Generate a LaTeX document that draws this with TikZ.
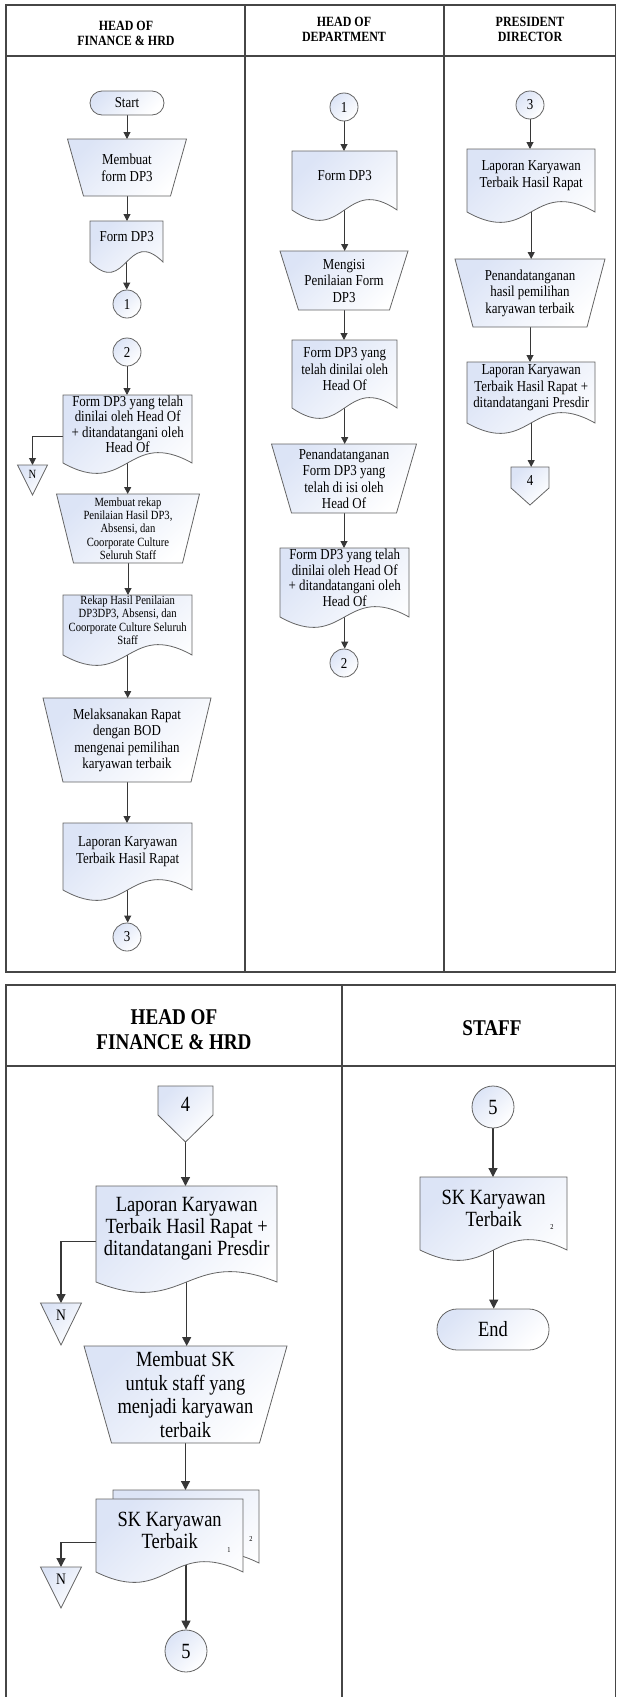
\documentclass[tikz,border=0pt]{standalone}
\usepackage{fontspec}
\setmainfont{Liberation Serif}[FakeStretch=0.85]
\usetikzlibrary{arrows.meta}
\pgfdeclarelayer{bg}
\pgfsetlayers{bg,main}

\definecolor{shd}{RGB}{220,228,246}
\definecolor{edge}{RGB}{100,100,100}
\definecolor{wire}{RGB}{55,55,55}
\definecolor{rulecol}{RGB}{70,70,70}

% type sizes
\newcommand\FsBody{\fontsize{15.2}{16.5}\selectfont}
\newcommand\FsTight{\fontsize{15.2}{15.5}\selectfont}
\newcommand\FsSmall{\fontsize{12.5}{13.3}\selectfont}
\newcommand\FsHead{\fontsize{14.1}{15}\selectfont\bfseries}
\newcommand\FsBig{\fontsize{21.7}{22}\selectfont}
\newcommand\FsBigT{\fontsize{21.7}{23.5}\selectfont}
\newcommand\FsBigHead{\fontsize{22.5}{25}\selectfont\bfseries}
\newcommand\FsN{\fontsize{12.5}{12.5}\selectfont}
\newcommand\FsNB{\fontsize{16}{16}\selectfont}
\newcommand\FsTiny{\fontsize{7.5}{8}\selectfont}

\tikzset{
  shp/.style={draw=edge, line width=0.8pt, top color=shd, bottom color=white, shading angle=45},
  txt/.style={inner sep=0pt, align=center},
  arr/.style={draw=wire, line width=1pt, -{Triangle[length=7pt,width=7pt]}},
  arrB/.style={draw=wire, line width=1.2pt, -{Triangle[length=9pt,width=9pt]}},
  conn/.style={circle, shp, inner sep=0pt, minimum size=28pt, font=\FsBody},
  connB/.style={circle, shp, inner sep=0pt, minimum size=42pt, font=\FsBig},
  term/.style={rectangle, shp, inner sep=0pt},
  tbl/.style={draw=rulecol, line width=1.2pt},
}

% document: name, x, y, width, height, font, text
\newcommand\Doc[7]{%
  \path[shp] (#2,#3) -- ({#2+#4},#3) -- ({#2+#4},{#3+#5})
    .. controls ({#2+0.5*#4},{#3+#5-36}) and ({#2+0.5*#4},{#3+#5+36}) .. (#2,{#3+#5}) -- cycle;
  \node[txt, font=#6, minimum width=#4, minimum height={#5-10}, anchor=north west] (#1) at (#2,#3) {#7};
}
% manual operation: name, cx, y, top width, bottom width, height, font, text
\newcommand\Trap[8]{%
  \path[shp] ({#2-0.5*#4},#3) -- ({#2+0.5*#4},#3) -- ({#2+0.5*#5},{#3+#6}) -- ({#2-0.5*#5},{#3+#6}) -- cycle;
  \node[txt, font=#7, minimum width=#5, minimum height=#6, anchor=north] (#1) at (#2,#3) {#8};
}
% off-page reference: name, cx, y, width, side height, total height, font, text
\newcommand\Off[8]{%
  \path[shp] ({#2-0.5*#4},#3) -- ({#2+0.5*#4},#3) -- ({#2+0.5*#4},{#3+#5}) -- (#2,{#3+#6}) -- ({#2-0.5*#4},{#3+#5}) -- cycle;
  \node[txt, minimum width=#4, minimum height=#6, anchor=north] (#1) at (#2,#3) {};
  \node[txt, font=#7] (#1t) at (#2,{#3+0.62*#5}) {#8};
}
% merge triangle: name, cx, y, width, height, font, text
\newcommand\Merge[7]{%
  \path[shp] ({#2-0.5*#4},#3) -- ({#2+0.5*#4},#3) -- (#2,{#3+#5}) -- cycle;
  \node[txt, minimum width=#4, minimum height=#5, anchor=north] (#1) at (#2,#3) {};
  \node[txt, font=#6] (#1t) at (#2,{#3+0.3*#5}) {#7};
}

\begin{document}
\begin{tikzpicture}[x=1pt,y=-1pt]
\useasboundingbox (0,0) rectangle (617,1697);
\clip (0,0) rectangle (617,1697);

% swimlane tables
\draw[tbl] (6,5) rectangle (615.5,972);
\draw[tbl] (6,56) -- (615.5,56);
\draw[tbl] (245,5) -- (245,972);
\draw[tbl] (444,5) -- (444,972);
\draw[tbl] (6,1720) -- (6,985) -- (615.5,985) -- (615.5,1720);
\draw[tbl] (6,1066) -- (615.5,1066);
\draw[tbl] (342,985) -- (342,1720);

% lane titles
\node[txt, font=\FsHead] (hA) at (126,33.5) {HEAD OF\\FINANCE \& HRD};
\node[txt, font=\FsHead] (hB) at (344,29) {HEAD OF\\DEPARTMENT};
\node[txt, font=\FsHead] (hC) at (530,29) {PRESIDENT\\DIRECTOR};
\node[txt, font=\FsBigHead] (hD) at (174,1029.5) {HEAD OF\\FINANCE \& HRD};
\node[txt, font=\FsBigHead] (hE) at (492,1028) {STAFF};

% Head of Finance & HRD (part 1)
\node[term, rounded corners=12pt, minimum width=74pt, minimum height=24pt, font=\FsBody] (start) at (127,103) {Start};
\Trap{t1}{127}{139}{119}{87}{57}{\FsBody}{Membuat\\form DP3}
\Doc{d1}{90}{221}{73}{41}{\FsBody}{Form DP3}
\node[conn] (c1) at (127,304) {1};
\node[conn] (c2) at (127,352) {2};
\Doc{d2}{63}{395}{129}{68}{\FsTight}{Form DP3 yang telah\\dinilai oleh Head Of\\+ ditandatangani oleh\\Head Of}
\Merge{n1}{32.5}{465}{30}{30}{\FsN}{N}
\Trap{t2}{128}{494}{143}{109}{69}{\FsSmall}{Membuat rekap\\Penilaian Hasil DP3,\\Absensi, dan\\Coorporate Culture\\Seluruh Staff}
\Doc{d3}{63}{595}{129}{60}{\FsSmall}{Rekap Hasil Penilaian\\DP3DP3, Absensi, dan\\Coorporate Culture Seluruh\\Staff}
\Trap{t3}{127}{698}{168}{128}{84}{\FsBody}{Melaksanakan Rapat\\dengan BOD\\mengenai pemilihan\\karyawan terbaik}
\Doc{d4}{63}{823}{129}{67}{\FsBody}{Laporan Karyawan\\Terbaik Hasil Rapat}
\node[conn] (c3) at (127,937) {3};

% Head of Department
\node[conn] (c1b) at (344,107) {1};
\Doc{d5}{292}{151}{105}{59}{\FsBody}{Form DP3}
\Trap{t4}{344}{251}{128}{91}{59}{\FsBody}{Mengisi\\Penilaian Form\\DP3}
\Doc{d6}{292}{340}{105}{68}{\FsBody}{Form DP3 yang\\telah dinilai oleh\\Head Of}
\Trap{t5}{344}{444}{145}{105}{69}{\FsBody}{Penandatanganan\\Form DP3 yang\\telah di isi oleh\\Head Of}
\Doc{d7}{280}{548}{129}{69}{\FsTight}{Form DP3 yang telah\\dinilai oleh Head Of\\+ ditandatangani oleh\\Head Of}
\node[conn] (c2b) at (344,663) {2};

% President Director
\node[conn] (c3b) at (530,105) {3};
\Doc{d8}{467}{149}{128}{63}{\FsBody}{Laporan Karyawan\\Terbaik Hasil Rapat}
\Trap{t6}{530}{259}{150}{114}{68}{\FsBody}{Penandatanganan\\hasil pemilihan\\karyawan terbaik}
\Doc{d9}{467}{362}{128}{61}{\FsBody}{Laporan Karyawan\\Terbaik Hasil Rapat +\\ditandatangani Presdir}
\Off{o4}{530}{467}{38}{21}{38}{\FsBody}{4}

% Head of Finance & HRD (part 2)
\Off{o4b}{185.5}{1086}{55}{29}{56}{\FsBig}{4}
\Doc{d10}{96}{1186}{181}{96}{\FsBig}{Laporan Karyawan\\Terbaik Hasil Rapat +\\ditandatangani Presdir}
\Merge{n2}{61}{1303}{41}{42}{\FsNB}{N}
\Trap{t7}{185.5}{1346}{203}{148}{97}{\FsBigT}{Membuat SK\\untuk staff yang\\menjadi karyawan\\terbaik}
\Doc{mdb}{113}{1490}{146}{73}{\FsBig}{}
\Doc{mdf}{96}{1499}{147}{73}{\FsBig}{SK Karyawan\\Terbaik}
\node[txt, font=\FsTiny] (m1) at (229,1550) {1};
\node[txt, font=\FsTiny] (m2) at (251,1539) {2};
\Merge{n3}{61}{1567}{41}{41}{\FsNB}{N}
\node[connB] (c5) at (186,1651) {5};

% Staff
\node[connB] (c5b) at (493,1107) {5};
\Doc{d11}{420}{1177}{147}{73}{\FsBig}{SK Karyawan\\Terbaik}
\node[txt, font=\FsTiny] (m3) at (552,1227) {2};
\node[term, rounded corners=20pt, minimum width=112pt, minimum height=41pt, font=\FsBig] (en) at (493,1329.5) {End};

% flow lines
\begin{pgfonlayer}{bg}
\draw[arr] (start.south) -- (start.south |- t1.north);
\draw[arr] (t1.south) -- (t1.south |- d1.north);
\draw[arr] (d1.south) -- (d1.south |- c1.north);
\draw[arr] (c2.south) -- (c2.south |- d2.north);
\draw[arr] (d2.south) -- (d2.south |- t2.north);
\draw[arr] (t2.south) -- (t2.south |- d3.north);
\draw[arr] (d3.south) -- (d3.south |- t3.north);
\draw[arr] (t3.south) -- (t3.south |- d4.north);
\draw[arr] (d4.south) -- (d4.south |- c3.north);
\draw[arr] ([yshift=-12pt]d2.west) -| (n1.north);

\draw[arr] (c1b.south) -- (c1b.south |- d5.north);
\draw[arr] (d5.south) -- (d5.south |- t4.north);
\draw[arr] (t4.south) -- (t4.south |- d6.north);
\draw[arr] (d6.south) -- (d6.south |- t5.north);
\draw[arr] (t5.south) -- (t5.south |- d7.north);
\draw[arr] (d7.south) -- (d7.south |- c2b.north);

\draw[arr] (c3b.south) -- (c3b.south |- d8.north);
\draw[arr] (d8.south) -- (d8.south |- t6.north);
\draw[arr] (t6.south) -- (t6.south |- d9.north);
\draw[arr] (d9.south) -- (d9.south |- o4.north);

\draw[arrB] (o4b.south) -- (o4b.south |- d10.north);
\draw[arrB] (d10.south) -- (d10.south |- t7.north);
\draw[arrB] (t7.south) -- (t7.south |- mdb.north);
\draw[arrB] (mdf.south -| c5.north) -- (c5.north);
\draw[arrB] ([yshift=-12pt]d10.west) -| (n2.north);
\draw[arrB] ([yshift=-12pt]mdf.west) -| (n3.north);

\draw[arrB] (c5b.south) -- (c5b.south |- d11.north);
\draw[arrB] (d11.south) -- (d11.south |- en.north);
\end{pgfonlayer}
\end{tikzpicture}
\end{document}
